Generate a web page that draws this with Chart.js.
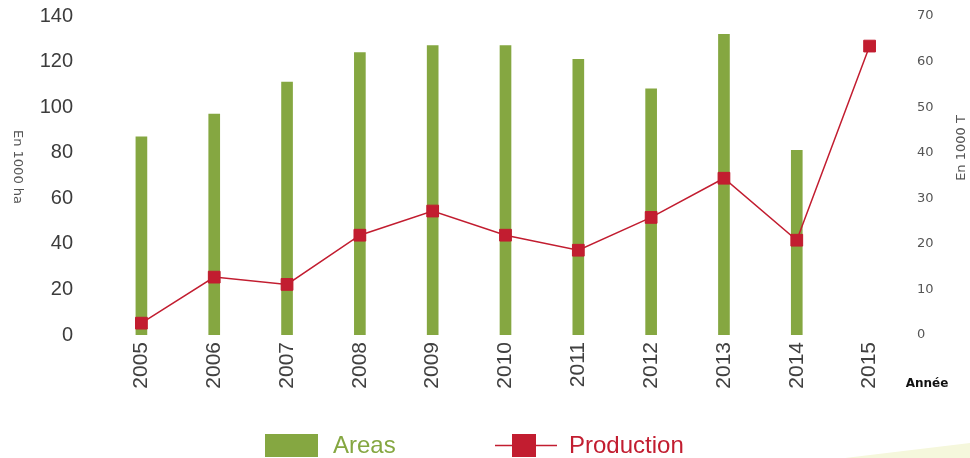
<!DOCTYPE html>
<html>
<head>
<meta charset="utf-8">
<script src="https://cdn.jsdelivr.net/npm/chart.js@4/dist/chart.umd.min.js"></script>
<style>
  html, body { margin: 0; padding: 0; background: #fff; }
  #wrap { width: 970px; height: 458px; position: relative; }
</style>
</head>
<body>
<div id="wrap"><canvas id="graf" width="970" height="458"></canvas></div>
<script>
// Données
const annees = ['2005', '2006', '2007', '2008', '2009', '2010', '2011', '2012', '2013', '2014', '2015'];
const surfaces = [87, 97, 111, 124, 127, 127, 121, 108, 132, 81, null]; // en 1000 ha
const production = [2.6, 12.7, 11.1, 21.9, 27.2, 21.9, 18.6, 25.8, 34.4, 20.8, 63.4]; // en 1000 T

const vert = '#85a741';
const rouge = '#c21d30';

// Titres d'axes, "Année", légende et décor en bas à droite
const decor = {
    id: 'decor',
    beforeDraw(chart) {
        const c = chart.ctx;
        c.save();
        c.fillStyle = '#f5f7dc';
        c.beginPath();
        c.moveTo(845, 458);
        c.lineTo(970, 443);
        c.lineTo(970, 458);
        c.closePath();
        c.fill();
        c.restore();
    },
    afterDraw(chart) {
        const c = chart.ctx;
        c.save();
        c.fillStyle = '#555';
        c.font = '13px "DejaVu Sans"';
        c.textAlign = 'center';
        c.textBaseline = 'middle';
        // titre gauche, lu de haut en bas
        c.save();
        c.translate(17, 167);
        c.rotate(Math.PI / 2);
        c.fillText('En 1000 ha', 0, 0);
        c.restore();
        // titre droit, lu de bas en haut
        c.save();
        c.translate(962, 148);
        c.rotate(-Math.PI / 2);
        c.fillText('En 1000 T', 0, 0);
        c.restore();

        c.fillStyle = '#111';
        c.font = 'bold 12px "DejaVu Sans"';
        c.fillText('Année', 927, 384);

        // légende
        c.fillStyle = vert;
        c.fillRect(265, 434, 53, 23);
        c.font = '24px "Liberation Sans Narrow", "Liberation Sans"';
        c.textAlign = 'left';
        c.fillText('Areas', 333, 446);

        c.strokeStyle = rouge;
        c.lineWidth = 1.5;
        c.beginPath();
        c.moveTo(495, 445.5);
        c.lineTo(557, 445.5);
        c.stroke();
        c.fillStyle = rouge;
        c.fillRect(512, 434, 24, 23);
        c.fillText('Production', 569, 446);
        c.restore();
    }
};

const ctx = document.getElementById('graf').getContext('2d');
const graf = new Chart(ctx, {
    type: 'bar',
    data: {
        labels: annees,
        datasets: [{
            type: 'line',
            label: 'Production',
            data: production,
            yAxisID: 'y2',
            borderColor: rouge,
            borderWidth: 1.5,
            backgroundColor: rouge,
            pointStyle: 'rect',
            pointRadius: 8.3,
            pointBorderWidth: 1,
            pointBackgroundColor: rouge,
            pointBorderColor: rouge,
            order: 0
        }, {
            label: 'Areas',
            data: surfaces,
            yAxisID: 'y',
            backgroundColor: vert,
            barThickness: 11,
            order: 1
        }]
    },
    options: {
        responsive: false,
        animation: false,
        layout: { padding: { top: 16, bottom: 0, left: 0, right: 0 } },
        plugins: {
            legend: { display: false },
            tooltip: { enabled: false }
        },
        scales: {
            x: {
                grid: { display: false, drawTicks: false },
                border: { display: false },
                ticks: {
                    minRotation: 90,
                    maxRotation: 90,
                    padding: 7,
                    color: '#404040',
                    font: { family: '"Liberation Sans"', size: 21 }
                },
                afterFit(axis) { axis.height = 123; }
            },
            y: {
                position: 'left',
                min: 0,
                max: 140,
                grid: { display: false, drawTicks: false },
                border: { display: false },
                ticks: {
                    stepSize: 20,
                    padding: 32,
                    color: '#3c3c3c',
                    font: { family: '"Liberation Sans"', size: 20 }
                },
                afterFit(axis) {
                    axis.width = 105;
                    axis.paddingTop = 0;
                    axis.paddingBottom = 0;
                }
            },
            y2: {
                position: 'right',
                min: 0,
                max: 70,
                grid: { display: false, drawTicks: false },
                border: { display: false },
                ticks: {
                    stepSize: 10,
                    padding: 11,
                    color: '#555',
                    font: { family: '"DejaVu Sans"', size: 13 }
                },
                afterFit(axis) {
                    axis.width = 64;
                    axis.paddingTop = 0;
                    axis.paddingBottom = 0;
                }
            }
        }
    },
    plugins: [decor]
});
</script>
</body>
</html>
